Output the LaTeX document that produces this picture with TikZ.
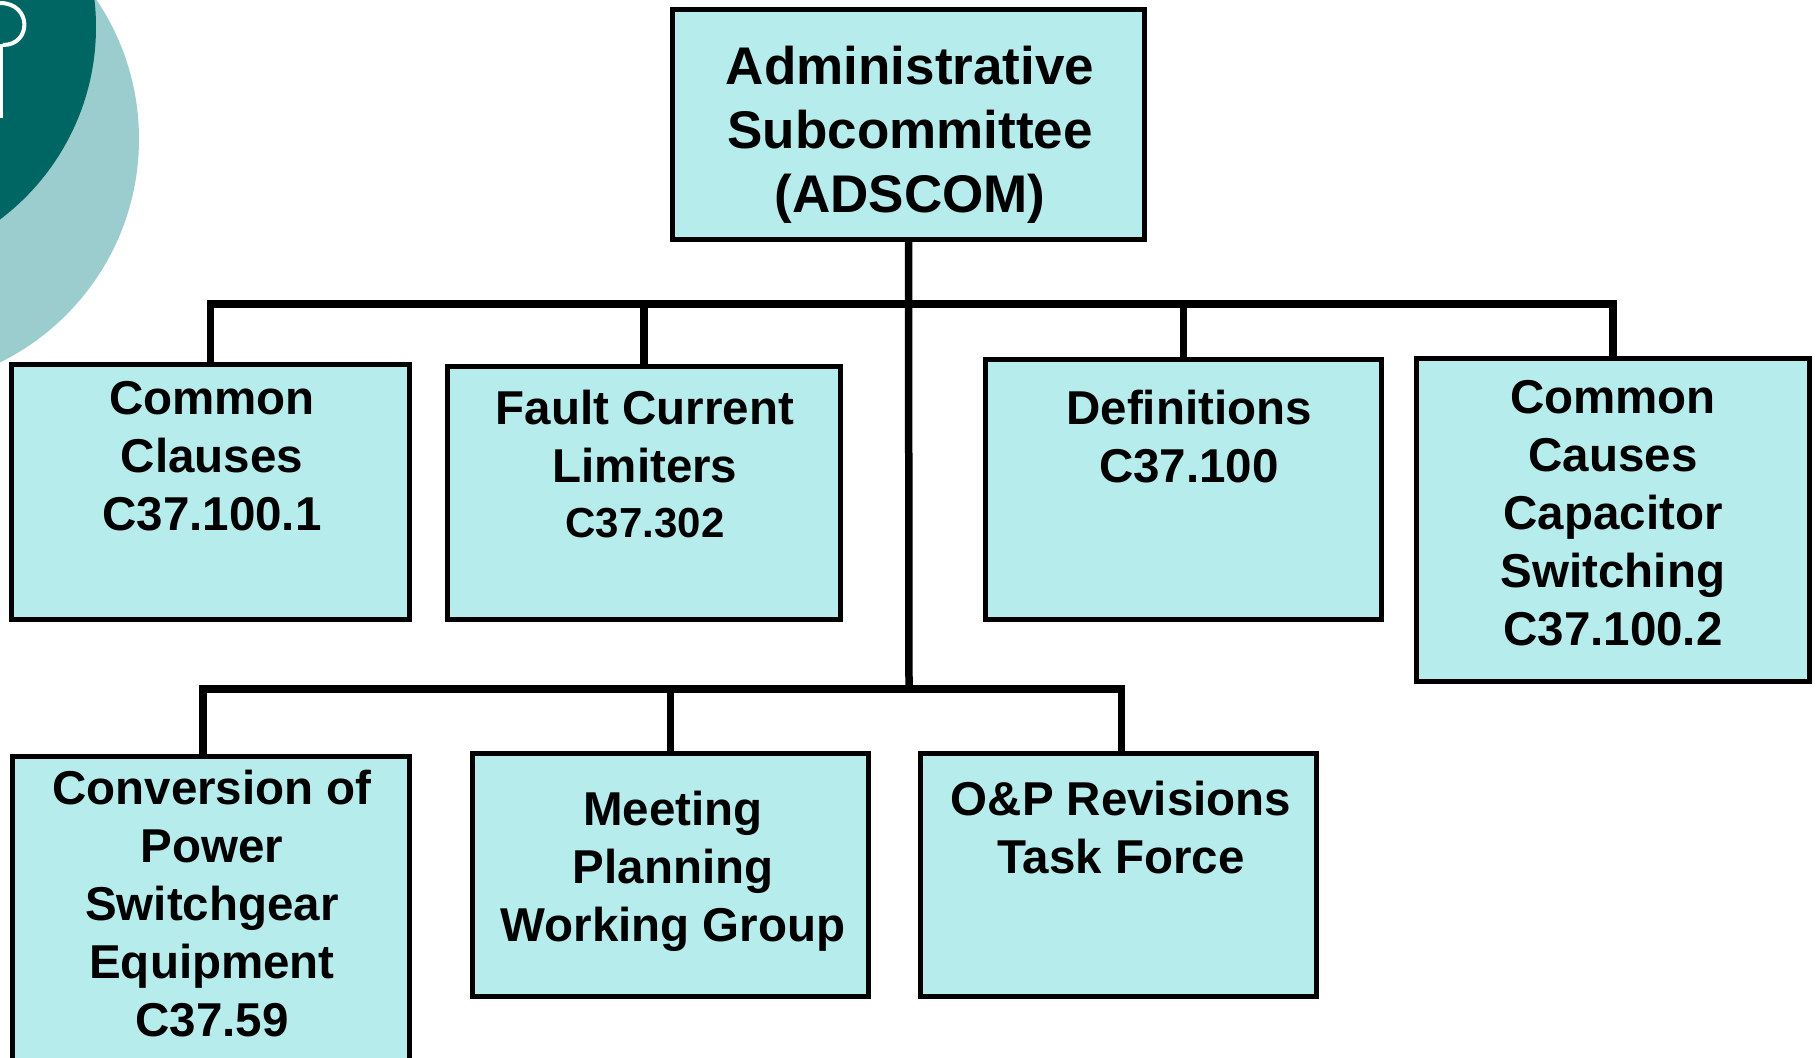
\documentclass[tikz,border=0pt]{standalone}
\usepackage{fontspec}
\setmainfont{Liberation Sans}
\definecolor{boxfill}{RGB}{182,236,236}
\definecolor{darkteal}{RGB}{0,102,100}
\definecolor{lightteal}{RGB}{155,205,206}
\begin{document}
\begin{tikzpicture}[x=1pt,y=-1pt,
  orgbox/.style={draw=black, line width=5pt, fill=boxfill, rectangle, inner sep=0pt},
  lbl/.style={font=\fontsize{47.5}{58}\selectfont\bfseries, align=center, inner sep=0pt},
  toplbl/.style={font=\fontsize{53}{64}\selectfont\bfseries, align=center, inner sep=0pt},
  conn/.style={line width=7.5pt, draw=black}]
\useasboundingbox (0,0) rectangle (1819,1057);
\clip (0,0) rectangle (1819,1057);
% decoration
\fill[lightteal] (-110,139) circle (249pt);
\fill[darkteal] (-145,27) circle (241pt);
\draw[white, line width=4pt] (0,3) .. controls (32,3) and (32,45) .. (3,45);
\fill[white] (0,44) rectangle (3,118);
% boxes
\node[orgbox, minimum width=472pt, minimum height=230pt] (top) at (908.5,124.5) {};
\node[orgbox, minimum width=398pt, minimum height=255pt] (cc) at (210.5,492) {};
\node[orgbox, minimum width=393pt, minimum height=253pt] (fcl) at (644,493) {};
\node[orgbox, minimum width=396pt, minimum height=260pt] (def) at (1183.5,489.5) {};
\node[orgbox, minimum width=393pt, minimum height=323pt] (ccc) at (1613,520) {};
\node[orgbox, minimum width=397pt, minimum height=320pt] (conv) at (211,916) {};
\node[orgbox, minimum width=396pt, minimum height=243pt] (meet) at (670.5,875) {};
\node[orgbox, minimum width=396pt, minimum height=243pt] (onp) at (1118.5,875) {};
% connectors
\coordinate (j1) at (909,304);
\coordinate (j2) at (909,689);
\draw[conn] (top.south) -- (j2);
\draw[conn] (cc.north) |- (j1) -| (ccc.north);
\draw[conn] (fcl.north) -- (fcl.north |- j1);
\draw[conn] (def.north) -- (def.north |- j1);
\draw[conn] ([xshift=-8pt]conv.north) |- (j2) -| ([xshift=3pt]onp.north);
\draw[conn] (meet.north) -- (meet.north |- j2);
% labels
\node[toplbl] (toptxt) at (910,135) {Administrative\\Subcommittee\\(ADSCOM)};
\node[lbl] (cctxt) at (212,456) {Common\\Clauses\\C37.100.1};
\node[lbl] (fcltxt) at (645,464) {Fault Current\\Limiters\\[-3pt]{\fontsize{42}{50}\selectfont C37.302}};
\node[lbl] (deftxt) at (1189,437) {Definitions\\C37.100};
\node[lbl] (ccctxt) at (1613,513.5) {Common\\Causes\\Capacitor\\Switching\\C37.100.2};
\node[lbl] (convtxt) at (212,904) {Conversion of\\Power\\Switchgear\\Equipment\\C37.59};
\node[lbl] (meettxt) at (673,871) {Meeting\\Planning\\Working Group};
\node[lbl] (onptxt) at (1121,827.5) {O\&P Revisions\\Task Force};
\end{tikzpicture}
\end{document}
